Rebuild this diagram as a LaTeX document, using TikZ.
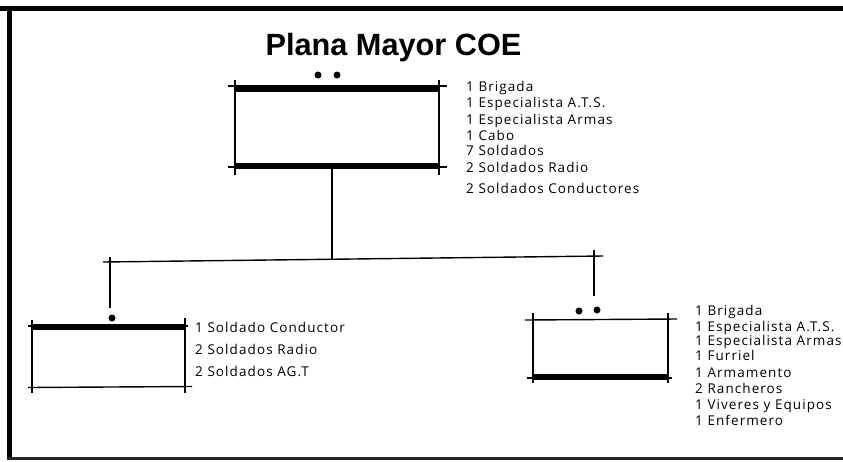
\documentclass[tikz,border=0pt]{standalone}
\usepackage{fontspec}
\newfontfamily\titlefont{Liberation Sans}
\newfontfamily\hand[LetterSpace=8]{Open Sans}
\begin{document}
\begin{tikzpicture}[x=1pt,y=-1pt,
  thinln/.style={line width=1.4pt,black},
  thickbar/.style={line width=6.5pt,black},
  frameln/.style={line width=5pt,black},
  boxn/.style={draw=none,inner sep=0pt,outer sep=0pt},
  dotn/.style={circle,fill=black,inner sep=0pt,minimum size=7pt},
  lbl/.style={anchor=mid west,inner sep=0pt,font=\hand\fontsize{13.5}{15}\selectfont},
  ttl/.style={anchor=base,inner sep=0pt,font=\titlefont\bfseries\fontsize{30.7}{34}\selectfont}]
\useasboundingbox (0,0) rectangle (843,461);
\fill[white] (0,0) rectangle (843,461);
% frame
\draw[frameln] (0,8) -- (843,8);
\draw[frameln] (9,6) -- (9,460);
\draw[line width=3pt,black!85] (7,458.5) -- (843,458.5);
% title
\node[ttl] (title) at (393.5,55) {Plana Mayor COE};
% top box
\node[boxn,minimum width=204pt,minimum height=78pt] (pm) at (337,127) {};
\draw[thinln] (235,80) -- (235,175);
\draw[thinln] (439,80) -- (439,175);
\draw[thinln] (228,86) -- (447,86);
\draw[thinln] (228,167) -- (447,167);
\draw[thickbar] (235,88.5) -- (439,88.5);
\draw[thickbar] (235,166) -- (439,166);
\node[dotn] (pmd1) at (318,75) {};
\node[dotn] (pmd2) at (337,75) {};
% connectors
\coordinate (stemtop) at (332,169);
\coordinate (junc) at (332,259);
\coordinate (hl) at (103,262);
\coordinate (hr) at (603,256);
\coordinate (ltop) at (110,257);
\coordinate (lbot) at (110,308);
\coordinate (rtop) at (594,250);
\coordinate (rbot) at (594,296);
\draw[thinln] (stemtop) -- (junc);
\draw[thinln] (hl) -- (hr);
\draw[thinln] (ltop) -- (lbot);
\draw[thinln] (rtop) -- (rbot);
% left box
\node[boxn,minimum width=153pt,minimum height=60pt] (lb) at (108.5,357) {};
\node[dotn] (lbd) at (112,318) {};
\draw[thinln] (32,320) -- (32,393);
\draw[thinln] (185,318) -- (185,393);
\draw[thinln] (28,326) -- (188,326);
\draw[thickbar] (32,327) -- (185,327);
\draw[thinln] (28,387.5) -- (192,386.5);
% right box
\node[boxn,minimum width=135pt,minimum height=57pt] (rb) at (600.5,348.5) {};
\node[dotn] (rbd1) at (579,311) {};
\node[dotn] (rbd2) at (597,310) {};
\draw[thinln] (533,313) -- (533,383);
\draw[thinln] (668,313) -- (668,383);
\draw[thinln] (525,320) -- (677,319);
\draw[thinln] (527,378) -- (672,378);
\draw[thickbar] (533,377) -- (668,377);
% top list
\node[lbl] (t1) at (466,89) {1 Brigada};
\node[lbl] (t2) at (466,105) {1 Especialista A.T.S.};
\node[lbl] (t3) at (466,122) {1 Especialista Armas};
\node[lbl] (t4) at (466,138) {1 Cabo};
\node[lbl] (t5) at (466,153) {7 Soldados};
\node[lbl] (t6) at (466,170) {2 Soldados Radio};
\node[lbl] (t7) at (466,191) {2 Soldados Conductores};
% left list
\node[lbl] (l1) at (195,330) {1 Soldado Conductor};
\node[lbl] (l2) at (195,352) {2 Soldados Radio};
\node[lbl] (l3) at (195,374) {2 Soldados AG.T};
% right list
\node[lbl] (r1) at (695,313) {1 Brigada};
\node[lbl] (r2) at (695,329) {1 Especialista A.T.S.};
\node[lbl] (r3) at (695,343) {1 Especialista Armas};
\node[lbl] (r4) at (695,358) {1 Furriel};
\node[lbl] (r5) at (695,375) {1 Armamento};
\node[lbl] (r6) at (695,391) {2 Rancheros};
\node[lbl] (r7) at (695,407) {1 Viveres y Equipos};
\node[lbl] (r8) at (695,423) {1 Enfermero};
\end{tikzpicture}
\end{document}
